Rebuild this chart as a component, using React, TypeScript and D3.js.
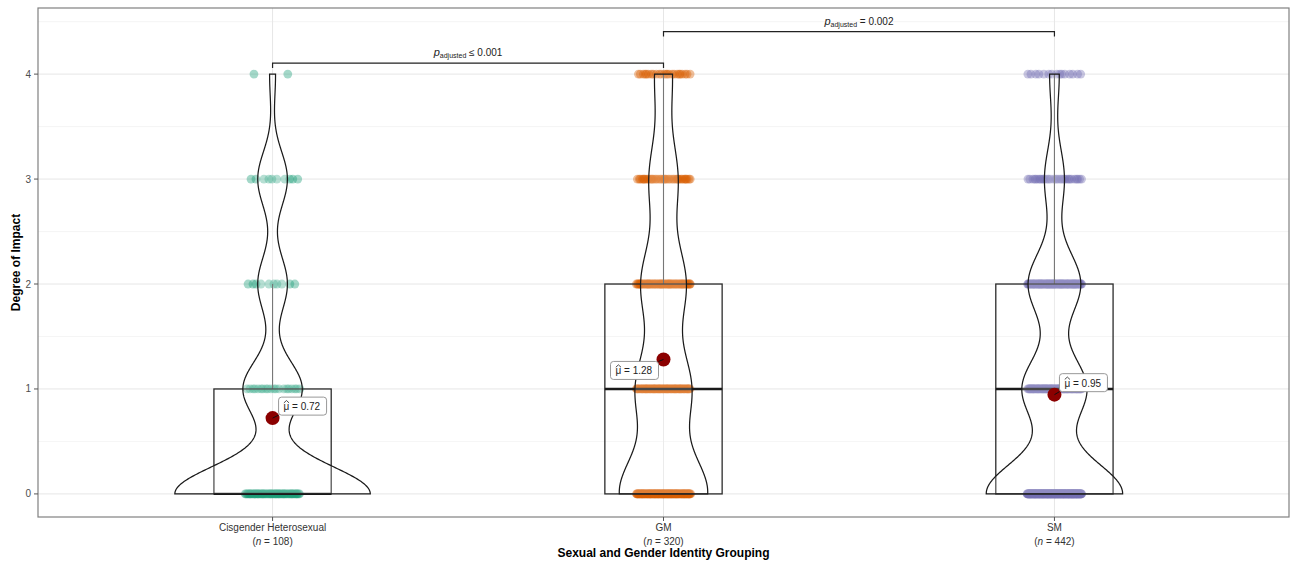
import React, { useEffect, useRef } from "react";
import * as d3 from "d3";

const groups = ["Cisgender Heterosexual", "GM", "SM"];
const levels = [0, 1, 2, 3, 4];
const cisCounts = [66, 20, 10, 10, 2];
const gmCounts = [121, 75, 61, 39, 24];
const smCounts = [213, 101, 82, 31, 15];
const palette = ["#1B9E77", "#D95F02", "#7570B3"];
const yTicks = [0, 1, 2, 3, 4];
const yMinor = [0.5, 1.5, 2.5, 3.5, 4.5];
const pairs = [
  { from: 0, to: 1, label: "≤ 0.001", level: 4.105 },
  { from: 1, to: 2, label: "= 0.002", level: 4.405 },
];

export default function App() {
  const ref = useRef<HTMLDivElement>(null);

  const drawChart = () => {
    document.body.style.margin = "0";
    const svgWidth = 1291;
    const svgHeight = 561;
    const left = 38;
    const right = 1289;
    const top = 8;
    const bottom = 517;

    d3.select(ref.current).selectAll("*").remove();
    const svg = d3
      .select(ref.current)
      .append("svg")
      .attr("width", svgWidth)
      .attr("height", svgHeight)
      .style("display", "block")
      .style("font-family", "'Liberation Sans', Arial, sans-serif");

    const x = d3.scalePoint().domain(groups).range([left, right]).padding(0.6);
    const step = x.step();
    const y = d3.scaleLinear().domain([-0.22, 4.63]).range([bottom, top]);

    // per-group summaries
    const allCounts = [cisCounts, gmCounts, smCounts];
    const stats = allCounts.map((counts) => {
      const values = levels.flatMap((lv, i) => d3.range(counts[i]).map(() => lv));
      const n = values.length;
      const mean = d3.mean(values) as number;
      const sd = d3.deviation(values) as number;
      const q1 = d3.quantile(values, 0.25) as number;
      const med = d3.quantile(values, 0.5) as number;
      const q3 = d3.quantile(values, 0.75) as number;
      const iqr = q3 - q1;
      const bw = 0.9 * Math.min(sd, iqr / 1.34) * Math.pow(n, -0.2);
      const grid = d3.range(0, 512).map((i) => (4 * i) / 511);
      const dens = grid.map((v) => ({
        v,
        d:
          d3.sum(levels, (lv, i) => (counts[i] / n) * Math.exp(-0.5 * ((v - lv) / bw) ** 2)) /
          (bw * Math.sqrt(2 * Math.PI)),
      }));
      const hi = d3.max(values.filter((v) => v <= q3 + 1.5 * iqr)) as number;
      const lo = d3.min(values.filter((v) => v >= q1 - 1.5 * iqr)) as number;
      return { counts, n, mean, q1, med, q3, hi, lo, dens };
    });
    const maxDens = d3.max(stats, (s) => d3.max(s.dens, (d) => d.d)) as number;

    // grid
    const grid = svg.append("g");
    grid
      .selectAll(".minor")
      .data(yMinor)
      .enter()
      .append("line")
      .attr("x1", left)
      .attr("x2", right)
      .attr("y1", (d) => y(d))
      .attr("y2", (d) => y(d))
      .attr("stroke", "#f2f2f2")
      .attr("stroke-width", 0.8);
    grid
      .selectAll(".major")
      .data(yTicks)
      .enter()
      .append("line")
      .attr("x1", left)
      .attr("x2", right)
      .attr("y1", (d) => y(d))
      .attr("y2", (d) => y(d))
      .attr("stroke", "#e6e6e6")
      .attr("stroke-width", 1);
    grid
      .selectAll(".vmajor")
      .data(groups)
      .enter()
      .append("line")
      .attr("x1", (d) => x(d) as number)
      .attr("x2", (d) => x(d) as number)
      .attr("y1", top)
      .attr("y2", bottom)
      .attr("stroke", "#e6e6e6")
      .attr("stroke-width", 1);

    // jittered points (deterministic spread)
    stats.forEach((s, gi) => {
      const cx = x(groups[gi]) as number;
      const pts = levels.flatMap((lv, li) =>
        d3.range(s.counts[li]).map((i) => {
          const u = (i * 0.6180339887 + li * 0.29 + gi * 0.41) % 1;
          return { x: cx + (u * 2 - 1) * 0.07 * step, v: lv };
        })
      );
      svg
        .append("g")
        .selectAll("circle")
        .data(pts)
        .enter()
        .append("circle")
        .attr("cx", (d) => d.x)
        .attr("cy", (d) => y(d.v))
        .attr("r", 4.4)
        .attr("fill", palette[gi])
        .attr("fill-opacity", 0.4);
    });

    // boxplots
    stats.forEach((s, gi) => {
      const cx = x(groups[gi]) as number;
      const hw = 0.15 * step;
      const g = svg.append("g");
      g.append("line")
        .attr("x1", cx)
        .attr("x2", cx)
        .attr("y1", y(s.q3))
        .attr("y2", y(s.hi))
        .attr("stroke", "#555")
        .attr("stroke-width", 1.1);
      g.append("line")
        .attr("x1", cx)
        .attr("x2", cx)
        .attr("y1", y(s.q1))
        .attr("y2", y(s.lo))
        .attr("stroke", "#555")
        .attr("stroke-width", 1.1);
      g.append("rect")
        .attr("x", cx - hw)
        .attr("width", 2 * hw)
        .attr("y", y(s.q3))
        .attr("height", y(s.q1) - y(s.q3))
        .attr("fill", "none")
        .attr("stroke", "#2b2b2b")
        .attr("stroke-width", 1.3);
      g.append("line")
        .attr("x1", cx - hw)
        .attr("x2", cx + hw)
        .attr("y1", y(s.med))
        .attr("y2", y(s.med))
        .attr("stroke", "#1a1a1a")
        .attr("stroke-width", 2.4);
    });

    // violins (area scaled)
    stats.forEach((s, gi) => {
      const cx = x(groups[gi]) as number;
      const w = d3.scaleLinear().domain([0, maxDens]).range([0, 0.25 * step]);
      const area = d3
        .area<{ v: number; d: number }>()
        .x0((d) => cx - w(d.d))
        .x1((d) => cx + w(d.d))
        .y((d) => y(d.v));
      svg
        .append("path")
        .attr("d", area(s.dens) as string)
        .attr("fill", "#fff")
        .attr("fill-opacity", 0.2)
        .attr("stroke", "#1a1a1a")
        .attr("stroke-width", 1.25);
    });

    // means with labels
    const labelOffsets = [
      [6, -21],
      [-53, 2],
      [5, -21],
    ];
    stats.forEach((s, gi) => {
      const cx = x(groups[gi]) as number;
      const cy = y(s.mean);
      const bw = 48;
      const bh = 18;
      const bx = cx + labelOffsets[gi][0];
      const by = cy + labelOffsets[gi][1];
      const nx = Math.max(bx, Math.min(cx, bx + bw));
      const ny = Math.max(by, Math.min(cy, by + bh));
      svg
        .append("circle")
        .attr("cx", cx)
        .attr("cy", cy)
        .attr("r", 7)
        .attr("fill", "#8B0000");
      svg
        .append("line")
        .attr("x1", cx)
        .attr("y1", cy)
        .attr("x2", nx)
        .attr("y2", ny)
        .attr("stroke", "#111")
        .attr("stroke-width", 1);
      svg
        .append("rect")
        .attr("x", bx)
        .attr("y", by)
        .attr("width", bw)
        .attr("height", bh)
        .attr("rx", 3)
        .attr("fill", "#fff")
        .attr("stroke", "#8c8c8c")
        .attr("stroke-width", 0.9);
      const tx = bx + 5;
      const ty = by + 13;
      svg
        .append("text")
        .attr("x", tx)
        .attr("y", ty)
        .attr("font-size", 10)
        .attr("fill", "#222")
        .text(`μ = ${s.mean.toFixed(2)}`);
      svg
        .append("path")
        .attr("d", `M${tx + 0.3},${ty - 7.2}L${tx + 2.9},${ty - 9.6}L${tx + 5.5},${ty - 7.2}`)
        .attr("fill", "none")
        .attr("stroke", "#222")
        .attr("stroke-width", 0.8);
    });

    // pairwise comparison brackets
    pairs.forEach((p) => {
      const x1 = x(groups[p.from]) as number;
      const x2 = x(groups[p.to]) as number;
      const yb = y(p.level);
      svg
        .append("path")
        .attr("d", `M${x1},${yb + 5}V${yb}H${x2}V${yb + 5}`)
        .attr("fill", "none")
        .attr("stroke", "#222")
        .attr("stroke-width", 1.2);
      const t = svg
        .append("text")
        .attr("x", (x1 + x2) / 2)
        .attr("y", yb - 7)
        .attr("text-anchor", "middle")
        .attr("fill", "#222");
      t.append("tspan").attr("font-size", 11).attr("font-style", "italic").text("p");
      t.append("tspan").attr("font-size", 7).attr("dy", 2).text("adjusted");
      t.append("tspan").attr("font-size", 10).attr("dy", -2).text(` ${p.label}`);
    });

    // panel border
    svg
      .append("rect")
      .attr("x", left)
      .attr("y", top)
      .attr("width", right - left)
      .attr("height", bottom - top)
      .attr("fill", "none")
      .attr("stroke", "#808080")
      .attr("stroke-width", 1.2);

    // y axis
    const ya = svg.append("g");
    ya.selectAll("line")
      .data(yTicks)
      .enter()
      .append("line")
      .attr("x1", left - 4)
      .attr("x2", left)
      .attr("y1", (d) => y(d))
      .attr("y2", (d) => y(d))
      .attr("stroke", "#555");
    ya.selectAll("text")
      .data(yTicks)
      .enter()
      .append("text")
      .attr("x", left - 7)
      .attr("y", (d) => y(d))
      .attr("dy", "0.35em")
      .attr("text-anchor", "end")
      .attr("font-size", 10)
      .attr("fill", "#4d4d4d")
      .text((d) => d);
    svg
      .append("text")
      .attr("transform", `translate(20,${(top + bottom) / 2}) rotate(-90)`)
      .attr("text-anchor", "middle")
      .attr("font-size", 12)
      .attr("font-weight", "bold")
      .text("Degree of Impact");

    // x axis
    const xa = svg.append("g");
    groups.forEach((gname, gi) => {
      const cx = x(gname) as number;
      xa.append("line")
        .attr("x1", cx)
        .attr("x2", cx)
        .attr("y1", bottom)
        .attr("y2", bottom + 4)
        .attr("stroke", "#555");
      xa.append("text")
        .attr("x", cx)
        .attr("y", bottom + 14)
        .attr("text-anchor", "middle")
        .attr("font-size", 10)
        .attr("fill", "#333")
        .text(gname);
      const t = xa
        .append("text")
        .attr("x", cx)
        .attr("y", bottom + 28)
        .attr("text-anchor", "middle")
        .attr("font-size", 10)
        .attr("fill", "#333");
      t.append("tspan").text("(");
      t.append("tspan").attr("font-style", "italic").text("n");
      t.append("tspan").text(` = ${stats[gi].n})`);
    });
    svg
      .append("text")
      .attr("x", (left + right) / 2)
      .attr("y", bottom + 40)
      .attr("text-anchor", "middle")
      .attr("font-size", 12)
      .attr("font-weight", "bold")
      .text("Sexual and Gender Identity Grouping");
  };

  useEffect(() => {
    drawChart();
  }, []);

  return <div ref={ref}></div>;
}
